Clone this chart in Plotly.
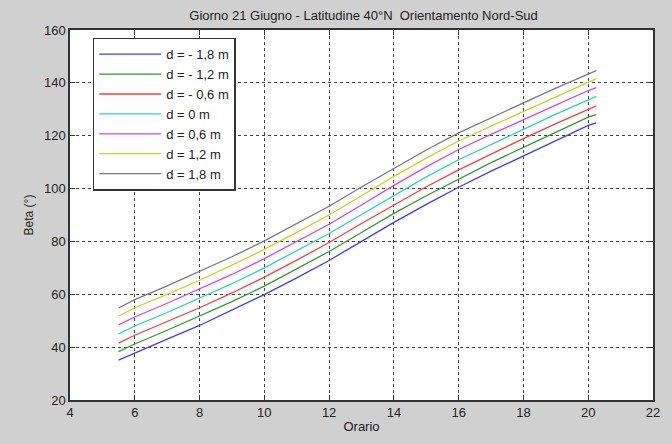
import plotly.graph_objects as go

# Hour of day (solar time)
orario = [5.5, 6, 7, 8, 9, 10, 11, 12, 13, 14, 15, 16, 17, 18, 19, 20, 20.25]

# Beta angle (degrees) for each offset d
beta_m18 = [35.1, 37.8, 43.0, 48.2, 53.9, 59.9, 66.2, 72.8, 80.0, 87.2, 94.0, 100.5, 106.6, 112.4, 118.2, 123.9, 124.9]
beta_m12 = [38.3, 41.2, 46.4, 51.7, 57.2, 63.1, 69.5, 76.2, 83.4, 90.6, 97.3, 103.7, 109.8, 115.6, 121.3, 127.0, 128.0]
beta_m06 = [41.5, 44.5, 49.7, 54.9, 60.5, 66.5, 72.9, 79.6, 86.8, 93.9, 100.7, 107.1, 113.1, 118.9, 124.6, 130.2, 131.3]
beta_0 = [45.0, 48.0, 53.1, 58.4, 64.0, 70.0, 76.4, 83.0, 90.2, 97.4, 104.4, 110.9, 116.8, 122.4, 128.2, 133.7, 134.9]
beta_p06 = [48.4, 51.4, 56.6, 61.9, 67.5, 73.5, 79.9, 86.5, 93.8, 101.2, 108.2, 114.8, 120.5, 125.9, 131.6, 137.1, 138.2]
beta_p12 = [51.8, 54.9, 60.0, 65.3, 71.0, 77.0, 83.4, 90.0, 97.3, 104.6, 111.5, 118.0, 123.6, 129.2, 134.8, 140.2, 141.6]
beta_p18 = [54.8, 58.0, 63.2, 68.6, 74.2, 80.2, 86.6, 93.3, 100.6, 107.6, 114.6, 121.1, 126.9, 132.4, 138.0, 143.2, 144.6]

series_names = ["d = - 1,8 m", "d = - 1,2 m", "d = - 0,6 m", "d = 0 m",
                "d = 0,6 m", "d = 1,2 m", "d = 1,8 m"]
series_values = [beta_m18, beta_m12, beta_m06, beta_0, beta_p06, beta_p12, beta_p18]
series_colors = ["#3c3cff", "#2e9e2e", "#ff3c3c", "#26d2d2", "#dc46dc", "#d2d21e", "#7a7a7a"]

x_ticks = [4, 6, 8, 10, 12, 14, 16, 18, 20, 22]
y_ticks = [20, 40, 60, 80, 100, 120, 140, 160]

FONT = "Liberation Sans, Arial"

fig = go.Figure()
for name, vals, col in zip(series_names, series_values, series_colors):
    fig.add_trace(go.Scatter(x=orario, y=vals, mode="lines", name=name,
                             line=dict(color=col, width=1.3)))

axis_common = dict(
    showline=True, linecolor="#333333", linewidth=1.5, mirror="allticks",
    ticks="inside", ticklen=5, tickcolor="#333333",
    showgrid=True, gridcolor="#444444", griddash="dot", gridwidth=1,
    zeroline=False,
    tickfont=dict(family=FONT, size=13, color="#222222"),
)

fig.update_layout(
    width=672, height=444,
    margin=dict(l=70, r=15, t=30, b=41),
    paper_bgcolor="#d0d0d0", plot_bgcolor="#ffffff",
    title=dict(text="Giorno 21 Giugno - Latitudine 40°N  Orientamento Nord-Sud",
               x=0.541, xanchor="center", y=0.966, yanchor="middle",
               font=dict(family=FONT, size=13, color="#222222")),
    xaxis=dict(range=[4, 22], tickvals=x_ticks, title=dict(text="Orario", standoff=3,
               font=dict(family=FONT, size=13, color="#222222")),
               **axis_common),
    yaxis=dict(range=[20, 160], tickvals=y_ticks, title=dict(text="Beta (°)", standoff=8,
               font=dict(family=FONT, size=12, color="#222222")),
               **axis_common),
    legend=dict(x=0.039, y=0.979, xanchor="left", yanchor="top",
                bgcolor="#ffffff", bordercolor="#333333", borderwidth=1.5,
                font=dict(family=FONT, size=13, color="#222222"),
                itemwidth=62, tracegroupgap=0),
    showlegend=True,
)

fig.write_html("out.html")
